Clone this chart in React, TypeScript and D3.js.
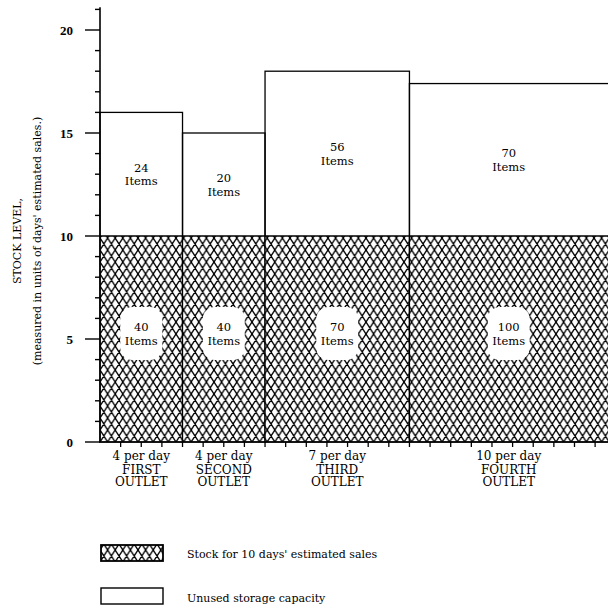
import React from "react";
import * as d3 from "d3";

// values
const outlets = ["FIRST", "SECOND", "THIRD", "FOURTH"];
const salesPerDay = [4, 4, 7, 10];
const capacityLevel = [16, 15, 18, 17.4];
const stockItems = [40, 40, 70, 100];
const unusedItems = [24, 20, 56, 70];
const coverDays = 10;
const majorTicks = [0, 5, 10, 15, 20];
const legendLabels = ["Stock for 10 days' estimated sales", "Unused storage capacity"];

const W = 608;
const H = 608;
const FONT = "'DejaVu Serif', serif";

const x = d3.scaleLinear().domain([0, 25]).range([100, 100 + 25 * 20.63]);
const y = d3.scaleLinear().domain([0, 20]).range([442, 30]);

// cumulative start of every outlet along the x axis
const starts = salesPerDay.map((_, i) => d3.sum(salesPerDay.slice(0, i)));

const tileW = 7.6;
const tileH = 12;
function hatchPath() {
  const segs: string[] = [];
  for (const dx of [-tileW, 0, tileW]) {
    for (const dy of [-tileH, 0, tileH]) {
      segs.push(`M${dx},${dy}L${dx + tileW},${dy + tileH}`);
      segs.push(`M${dx + tileW},${dy}L${dx},${dy + tileH}`);
    }
  }
  return segs.join("");
}

function visibleCenter(i: number) {
  const x0 = x(starts[i]);
  const x1 = Math.min(x(starts[i] + salesPerDay[i]), W);
  return (x0 + x1) / 2;
}

const App: React.FC = () => {
  const minor = d3.range(0, 22);
  const xMinor = d3.range(1, 25);
  return (
    <svg width={W} height={H} style={{ position: "absolute", left: 0, top: 0, background: "#fff" }}>
      <defs>
        <pattern id="hatch" patternUnits="userSpaceOnUse" width={tileW} height={tileH} x={x(0)} y={y(0)}>
          <rect width={tileW} height={tileH} fill="#fff" />
          <path d={hatchPath()} stroke="#000" strokeWidth={1.35} fill="none" />
        </pattern>
      </defs>

      {/* stock and unused capacity per outlet */}
      {outlets.map((o, i) => {
        const x0 = x(starts[i]);
        const x1 = x(starts[i] + salesPerDay[i]);
        return (
          <g key={o}>
            <rect x={x0} y={y(coverDays)} width={x1 - x0} height={y(0) - y(coverDays)} fill="url(#hatch)" />
            <rect
              x={x0}
              y={y(capacityLevel[i])}
              width={x1 - x0}
              height={y(0) - y(capacityLevel[i])}
              fill="none"
              stroke="#000"
              strokeWidth={1.3}
            />
          </g>
        );
      })}
      <line x1={x(0)} x2={W} y1={y(coverDays)} y2={y(coverDays)} stroke="#000" strokeWidth={1.6} />

      {/* labels inside bars */}
      {outlets.map((o, i) => {
        const cx = visibleCenter(i);
        const upMid = y((coverDays + capacityLevel[i]) / 2);
        const lowMid = y(coverDays / 2) - 6;
        return (
          <g key={o + "lab"} fontFamily={FONT} fontSize={11.5} textAnchor="middle" fill="#000">
            <text x={cx} y={upMid - 2.5}>{unusedItems[i]}</text>
            <text x={cx} y={upMid + 11}>Items</text>
            <rect x={cx - 21} y={lowMid - 26} width={42} height={53} rx={12} fill="#fff" />
            <text x={cx} y={lowMid - 2}>{stockItems[i]}</text>
            <text x={cx} y={lowMid + 11.5}>Items</text>
          </g>
        );
      })}

      {/* y axis */}
      <line x1={x(0)} x2={x(0)} y1={y(21.1)} y2={y(0)} stroke="#000" strokeWidth={1.6} />
      {minor.map((v) => (
        <line
          key={"ym" + v}
          x1={x(0) - (majorTicks.includes(v) ? 15 : 5)}
          x2={x(0)}
          y1={y(v)}
          y2={y(v)}
          stroke="#000"
          strokeWidth={1.4}
        />
      ))}
      {majorTicks.map((v) => (
        <text
          key={"yl" + v}
          x={73}
          y={y(v) + 4.5}
          textAnchor="end"
          fontFamily="'Liberation Serif', serif"
          fontWeight="bold"
          fontSize={13}
          fill="#000"
        >
          {v}
        </text>
      ))}

      {/* x axis */}
      <line x1={x(0) - 1} x2={W} y1={y(0)} y2={y(0)} stroke="#000" strokeWidth={1.6} />
      {xMinor.map((v) => (
        <line key={"xm" + v} x1={x(v)} x2={x(v)} y1={y(0)} y2={y(0) + 5} stroke="#000" strokeWidth={1.3} />
      ))}
      {outlets.map((o, i) => {
        const cx = visibleCenter(i);
        return (
          <g key={o + "cat"} fontFamily={FONT} fontSize={12} textAnchor="middle" fill="#000">
            <text x={cx} y={460}>{salesPerDay[i]} per day</text>
            <text x={cx} y={473.5}>{o}</text>
            <text x={cx} y={486}>OUTLET</text>
          </g>
        );
      })}

      {/* y title */}
      <g fontFamily={FONT} fontSize={11} textAnchor="middle" fill="#000">
        <text transform={`translate(21,241) rotate(-90)`}>STOCK LEVEL,</text>
        <text transform={`translate(41,241) rotate(-90)`}>(measured in units of days' estimated sales.)</text>
      </g>

      {/* legend */}
      <rect x={101} y={545} width={62} height={16} fill="url(#hatch)" stroke="#000" strokeWidth={1.8} />
      <rect x={101} y={588} width={62} height={16} fill="#fff" stroke="#000" strokeWidth={1.4} />
      <g fontFamily={FONT} fontSize={11} fill="#000">
        <text x={187} y={558}>{legendLabels[0]}</text>
        <text x={187} y={602}>{legendLabels[1]}</text>
      </g>
    </svg>
  );
};

export default App;
